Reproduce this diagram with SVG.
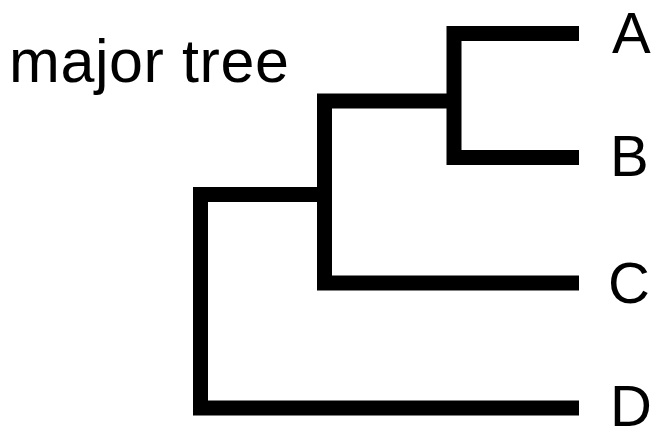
<svg xmlns="http://www.w3.org/2000/svg" width="657" height="431" viewBox="0 0 657 431">
<style>
.br{fill:none;stroke:#000;stroke-width:15;stroke-linejoin:miter;stroke-linecap:butt}
.lb{font-family:"Liberation Sans",Arial,sans-serif;font-size:58px;fill:#000}
.tt{font-family:"Liberation Sans",Arial,sans-serif;font-size:61px;fill:#000}
</style>
<rect width="657" height="431" fill="#fff"/>
<g id="title"><text class="tt" x="9" y="82" textLength="280" lengthAdjust="spacing">major tree</text></g>
<g id="connectors">
<path class="br" d="M579,408 H200.5 V194.5 H324.5"/>
<path class="br" d="M579,283 H324.5 V101 H454"/>
<path class="br" d="M579,157.5 H454 V33.5 H579"/>
</g>
<g id="A"><text class="lb" x="612" y="53">A</text></g>
<g id="B"><text class="lb" x="610" y="176">B</text></g>
<g id="C"><text class="lb" x="608" y="303">C</text></g>
<g id="D"><text class="lb" x="610" y="426">D</text></g>
</svg>
